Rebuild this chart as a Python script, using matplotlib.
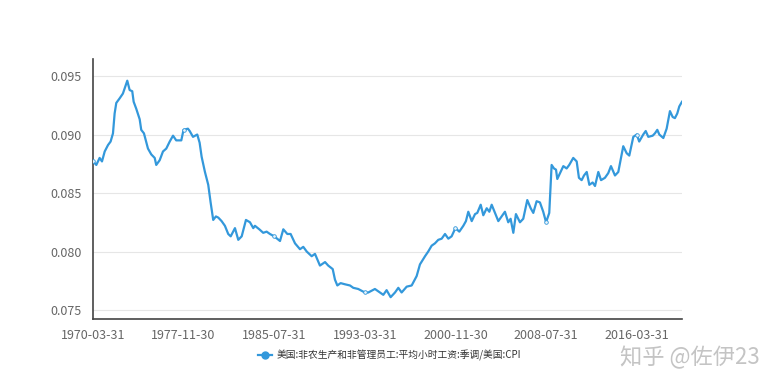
import matplotlib
matplotlib.use('Agg')
import matplotlib.pyplot as plt
from matplotlib.lines import Line2D
import numpy as np

plt.rcParams['font.family'] = ['Noto Sans CJK SC', 'DejaVu Sans']

# decimal years (1970-03 = 1970.17) and ratio
years = [
  1970.17, 1970.45, 1970.73, 1970.93, 1971.16, 1971.44, 1971.66, 1971.86, 1972.00, 1972.14,
  1972.43, 1972.70, 1973.07, 1973.27, 1973.49, 1973.61, 1973.83, 1974.12, 1974.25, 1974.48,
  1974.82, 1975.10, 1975.39, 1975.52, 1975.81, 1976.09, 1976.37, 1976.66, 1976.94, 1977.21,
  1977.64, 1977.83, 1978.20, 1978.35, 1978.63, 1978.99, 1979.19, 1979.36, 1979.64, 1979.92,
  1980.12, 1980.34, 1980.57, 1980.77, 1981.05, 1981.33, 1981.61, 1981.82, 1982.18, 1982.46,
  1982.75, 1983.11, 1983.45, 1983.73, 1983.87, 1984.24, 1984.57, 1984.86, 1985.14, 1985.50,
  1985.99, 1986.27, 1986.61, 1986.89, 1987.26, 1987.68, 1987.96, 1988.25, 1988.67, 1988.95,
  1989.37, 1989.80, 1990.07, 1990.45, 1990.64, 1990.84, 1991.12, 1991.49, 1991.91, 1992.19,
  1992.61, 1993.17, 1993.46, 1994.02, 1994.45, 1994.73, 1995.01, 1995.35, 1995.72, 1996.00,
  1996.28, 1996.71, 1997.13, 1997.55, 1997.83, 1998.26, 1998.53, 1998.82, 1999.10, 1999.38,
  1999.67, 1999.95, 2000.23, 2000.51, 2000.83, 2001.16, 2001.50, 2001.72, 2001.92, 2002.21,
  2002.49, 2002.68, 2002.97, 2003.19, 2003.48, 2003.70, 2003.90, 2004.18, 2004.46, 2004.74,
  2005.02, 2005.30, 2005.50, 2005.73, 2005.95, 2006.29, 2006.57, 2006.91, 2007.20, 2007.42,
  2007.70, 2007.98, 2008.26, 2008.50, 2008.77, 2008.97, 2009.17, 2009.34, 2009.45, 2009.68,
  2009.96, 2010.24, 2010.46, 2010.80, 2011.09, 2011.28, 2011.51, 2011.71, 2011.94, 2012.16,
  2012.44, 2012.64, 2012.92, 2013.15, 2013.48, 2013.76, 2013.99, 2014.33, 2014.61, 2015.03,
  2015.32, 2015.54, 2015.88, 2016.17, 2016.38, 2016.72, 2016.93, 2017.15, 2017.52, 2017.71,
  2017.91, 2018.08, 2018.42, 2018.70, 2018.98, 2019.21, 2019.40, 2019.60, 2019.77, 2020.00,
]
ratio = [
  0.0877, 0.0874, 0.0880, 0.0877, 0.08855, 0.0891, 0.0894, 0.0901, 0.0918, 0.0927,
  0.0931, 0.0935, 0.0946, 0.0938, 0.0937, 0.0928, 0.0922, 0.0913, 0.0904, 0.0901,
  0.0888, 0.0883, 0.0880, 0.0874, 0.0878, 0.08855, 0.0888, 0.0894, 0.0899, 0.0895,
  0.0895, 0.0904, 0.0905, 0.0903, 0.0898, 0.0900, 0.0893, 0.0881, 0.0868, 0.0857,
  0.0842, 0.0827, 0.0830, 0.0829, 0.0826, 0.0822, 0.0815, 0.0813, 0.0820, 0.0810,
  0.0813, 0.0827, 0.0825, 0.0820, 0.0822, 0.0819, 0.0816, 0.0817, 0.0815, 0.0813,
  0.0809, 0.0819, 0.0815, 0.0815, 0.0807, 0.0802, 0.0804, 0.0800, 0.0796, 0.0798,
  0.0788, 0.0791, 0.0788, 0.0785, 0.0776, 0.0771, 0.0773, 0.0772, 0.0771, 0.0769,
  0.0768, 0.0765, 0.0765, 0.0768, 0.0765, 0.0763, 0.0767, 0.0761, 0.0765, 0.0769,
  0.0765, 0.0770, 0.0771, 0.0779, 0.0789, 0.0796, 0.0800, 0.0805, 0.0807, 0.0810,
  0.0811, 0.0815, 0.0811, 0.0813, 0.0820, 0.0817, 0.0822, 0.0826, 0.0834, 0.0826,
  0.0832, 0.0833, 0.0840, 0.0831, 0.0837, 0.0834, 0.0840, 0.0833, 0.0826, 0.0830,
  0.0834, 0.0825, 0.0828, 0.0816, 0.0832, 0.0825, 0.0828, 0.0844, 0.0837, 0.0833,
  0.0843, 0.0842, 0.0834, 0.0825, 0.0833, 0.0874, 0.0871, 0.0870, 0.0862, 0.0867,
  0.0873, 0.0871, 0.0874, 0.0880, 0.0877, 0.0863, 0.0861, 0.0865, 0.0868, 0.0857,
  0.0859, 0.0856, 0.0868, 0.0861, 0.0863, 0.0867, 0.0873, 0.0865, 0.0868, 0.0890,
  0.0884, 0.0882, 0.0898, 0.0900, 0.0894, 0.0900, 0.0903, 0.0898, 0.0899, 0.0901,
  0.0904, 0.0900, 0.0897, 0.0905, 0.0920, 0.0915, 0.0914, 0.0918, 0.0924, 0.0928,
]

tick_years = [1970.17, 1977.83, 1985.50, 1993.17, 2000.83, 2008.50, 2016.17]
tick_labels = ['1970-03-31', '1977-11-30', '1985-07-31', '1993-03-31',
               '2000-11-30', '2008-07-31', '2016-03-31']
yticks = [0.075, 0.080, 0.085, 0.090, 0.095]
series_name = '美国:非农生产和非管理员工:平均小时工资:季调/美国:CPI'

color = '#3398DB'

fig = plt.figure(figsize=(7.75, 3.91), dpi=100)
ax = fig.add_axes([0.12, 0.184, 0.76, 0.665])

marks = [int(np.argmin(np.abs(np.array(years) - t))) for t in tick_years]
ax.plot(years, ratio, color=color, lw=1.6, marker='o', markevery=marks,
        ms=2.6, mfc='#eaf4fb', mec=color, mew=0.6, zorder=3)

ax.set_xlim(1970.17, 2020.0)
ax.set_ylim(0.07423, 0.09645)
ax.set_xticks(tick_years)
ax.set_xticklabels(tick_labels)
ax.set_yticks(yticks)
ax.set_yticklabels([f'{v:.3f}' for v in yticks])

ax.grid(axis='y', color='#e6e6e6', lw=0.8)
ax.set_axisbelow(True)
for s in ['top', 'right']:
  ax.spines[s].set_visible(False)
for s in ['left', 'bottom']:
  ax.spines[s].set_color('#444444')
  ax.spines[s].set_linewidth(1.2)
ax.tick_params(axis='both', length=0, labelsize=9, colors='#666666')
ax.tick_params(axis='x', pad=7)
ax.tick_params(axis='y', pad=8)

handle = Line2D([0], [0], color=color, lw=1.6, marker='o', ms=5,
                mfc=color, mec=color)
fig.legend([handle], [series_name], loc='center', bbox_to_anchor=(0.503, 0.092),
           frameon=False, fontsize=7, handlelength=1.4, handletextpad=0.5,
           labelcolor='#333333')

fig.text(0.80, 0.085, '知乎 @佐伊23', fontsize=16, color='#c4c4c4',
         ha='left', va='center')

fig.savefig('out.png', dpi=100)
